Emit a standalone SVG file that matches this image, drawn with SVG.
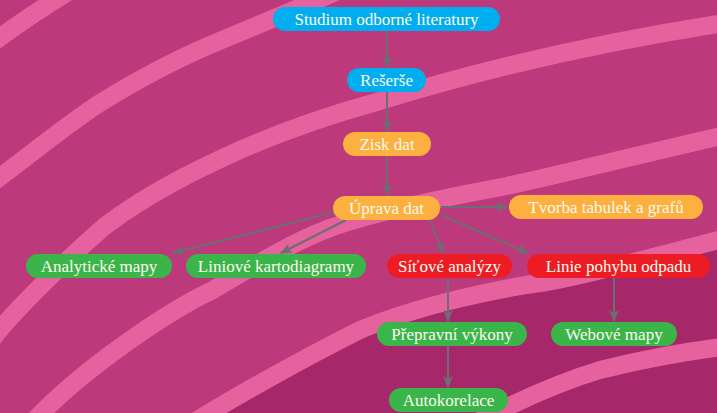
<svg xmlns="http://www.w3.org/2000/svg" width="717" height="413" viewBox="0 0 717 413">
<defs>
<style>
.band{fill:none;stroke:#E6629E;stroke-width:18;stroke-linecap:butt}
.pill text{font-family:"Liberation Serif","DejaVu Serif",serif;font-size:17px;fill:#FFFBEF;text-anchor:middle}
.blue rect{fill:#00AEEF}
.orange rect{fill:#FBB040}
.green rect{fill:#39B54A}
.red rect{fill:#ED1C24}
.conn line{stroke:#6D6E71;stroke-width:2;marker-end:url(#ah)}
</style>
<marker id="ah" viewBox="0 0 12 10" refX="11" refY="5" markerWidth="12" markerHeight="10" markerUnits="userSpaceOnUse" orient="auto">
<path d="M0,0 L12,5 L0,10 L3,5 z" fill="#6D6E71"/>
</marker>
</defs>
<g id="background">
<rect width="717" height="413" fill="#BC3A7C"/>
<path d="M190,425 C230,400 300,360 360,330 C420,305 500,288 547,282 C600,270 660,255 730,237 L730,425 Z" fill="#A7286A"/>
<path class="band" d="M-12,46 C10,30 35,12 68,-8"/>
<path class="band" d="M-12,186 C30,155 70,122 100,103 C150,72 190,53 222,40 C250,28 300,8 340,-10"/>
<path class="band" d="M-12,345 C5,320 60,265 105,226 C150,192 200,168 240,150 C290,128 340,112 380,101 C480,70 600,42 730,22"/>
<path class="band" d="M30,425 C80,370 170,310 213,290 C250,268 290,243 330,228 C370,214 420,202 507,186 C580,170 650,152 730,134"/>
<path class="band" stroke="#E05A93" d="M185,428 C220,405 300,360 360,330 C420,305 500,288 547,282 C600,272 660,255 730,237"/>
<path class="band" d="M470,426 C500,410 550,385 600,370 C640,360 680,352 730,346"/>
</g>
<g id="connectors" class="conn">
<line x1="387" y1="31" x2="387" y2="67"/>
<line x1="387" y1="92" x2="387" y2="131"/>
<line x1="387" y1="156" x2="387" y2="195"/>
<line x1="441" y1="207" x2="507" y2="207"/>
<line x1="334" y1="212" x2="173" y2="253"/>
<line x1="346" y1="220" x2="281" y2="253"/>
<line x1="430" y1="220" x2="443" y2="253"/>
<line x1="441" y1="215" x2="528" y2="253"/>
<line x1="448" y1="278" x2="448" y2="321"/>
<line x1="614" y1="278" x2="614" y2="321"/>
<line x1="448" y1="346" x2="448" y2="387"/>
</g>
<g id="n-studium" class="pill blue"><rect x="273" y="7" width="227" height="24" rx="12"/><text x="386.5" y="24.5">Studium odborné literatury</text></g>
<g id="n-reserse" class="pill blue"><rect x="347" y="68" width="79" height="24" rx="12"/><text x="386.5" y="85.5">Rešerše</text></g>
<g id="n-zisk" class="pill orange"><rect x="343" y="132" width="88" height="24" rx="12"/><text x="387" y="149.5">Zisk dat</text></g>
<g id="n-uprava" class="pill orange"><rect x="333" y="196" width="107" height="24" rx="12"/><text x="386.5" y="213.5">Úprava dat</text></g>
<g id="n-tvorba" class="pill orange"><rect x="509" y="195" width="194" height="24" rx="12"/><text x="606" y="212.5">Tvorba tabulek a grafů</text></g>
<g id="n-analyticke" class="pill green"><rect x="26" y="254" width="146" height="24" rx="12"/><text x="99" y="271.5">Analytické mapy</text></g>
<g id="n-liniove" class="pill green"><rect x="186" y="254" width="180" height="24" rx="12"/><text x="276" y="271.5">Liniové kartodiagramy</text></g>
<g id="n-sitove" class="pill red"><rect x="387" y="254" width="125" height="24" rx="12"/><text x="449.5" y="271.5">Síťové analýzy</text></g>
<g id="n-linie" class="pill red"><rect x="527" y="254" width="183" height="24" rx="12"/><text x="618.5" y="271.5">Linie pohybu odpadu</text></g>
<g id="n-prepravni" class="pill green"><rect x="377" y="322" width="150" height="24" rx="12"/><text x="452" y="339.5">Přepravní výkony</text></g>
<g id="n-webove" class="pill green"><rect x="551" y="322" width="126" height="24" rx="12"/><text x="614" y="339.5">Webové mapy</text></g>
<g id="n-autokorelace" class="pill green"><rect x="389" y="388" width="119" height="24" rx="12"/><text x="448.5" y="405.5">Autokorelace</text></g>
</svg>
